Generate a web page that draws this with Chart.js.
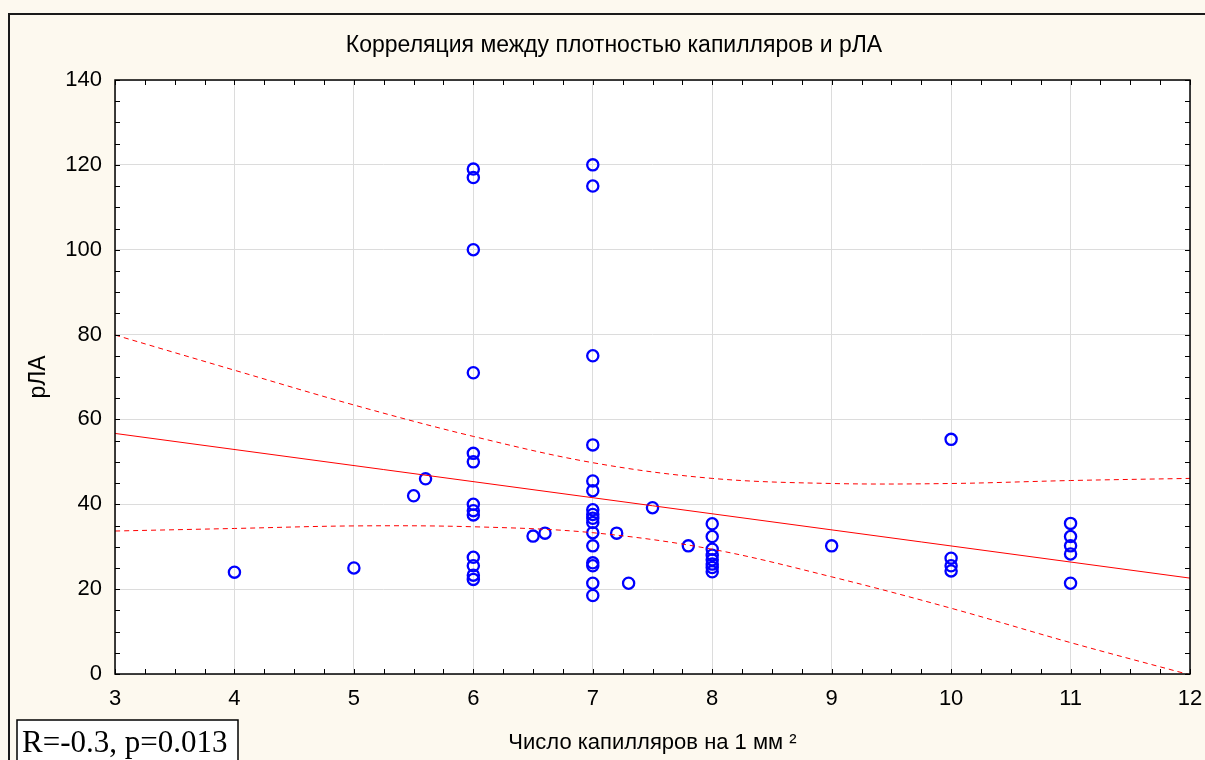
<!DOCTYPE html>
<html>
<head>
<meta charset="utf-8">
<script src="https://cdn.jsdelivr.net/npm/chart.js"></script>
<style>
  html, body { margin: 0; padding: 0; background: #fdf9ef; }
  #wrap { width: 1205px; height: 760px; }
</style>
</head>
<body>
<div id="wrap"><canvas id="chart" width="1205" height="760"></canvas></div>
<script>
// capillary density (per mm^2) vs pLA
const capDensity = [
  4, 5, 5.5, 5.6,
  6, 6, 6, 6, 6, 6, 6, 6, 6, 6, 6, 6, 6,
  6.5, 6.6,
  7, 7, 7, 7, 7, 7, 7, 7, 7, 7, 7, 7, 7, 7, 7, 7,
  7.2, 7.3, 7.5, 7.8,
  8, 8, 8, 8, 8, 8, 8, 8,
  9,
  10, 10, 10, 10,
  11, 11, 11, 11, 11
];
const plaValues = [
  24, 25, 42, 46,
  119, 117, 100, 71, 52, 50, 40, 38.5, 37.5, 27.5, 25.5, 23.3, 22.3,
  32.5, 33.2,
  120, 115, 75, 54, 45.5, 43.2, 38.7, 37.6, 36.7, 35.7, 33.3, 30.2, 26.2, 25.5, 21.4, 18.5,
  33.2, 21.4, 39.2, 30.2,
  35.4, 32.4, 29.4, 28, 26.9, 25.9, 25.1, 24.1,
  30.2,
  55.3, 27.3, 25.5, 24.3,
  35.5, 32.4, 30.2, 28.3, 21.4
];

// regression line and 95% band
const fitX = [3, 12];
const fitY = [56.7, 22.6];
const bandX = [3, 4, 5, 6, 7, 8, 9, 10, 11, 12];
const bandUpper = [79.9, 71.6, 63.4, 56.0, 49.8, 46.1, 44.9, 44.9, 45.6, 46.1];
const bandLower = [33.7, 34.3, 34.9, 34.7, 33.3, 29.4, 22.9, 15.5, 7.4, -0.2];

const xTicks = [3, 4, 5, 6, 7, 8, 9, 10, 11, 12];
const yTicks = [0, 20, 40, 60, 80, 100, 120, 140];

const titleText = 'Корреляция между плотностью капилляров и рЛА';
const xTitle = 'Число капилляров на 1 мм ²';
const yTitle = 'рЛА';
const statText = 'R=-0.3, p=0.013';

const sansFont = '"Liberation Sans", Arial, sans-serif';
const toPoints = (xs, ys) => xs.map((x, i) => ({ x: x, y: ys[i] }));

const decor = {
  id: 'decor',
  beforeDraw(chart) {
    const ctx = chart.ctx;
    const a = chart.chartArea;
    ctx.save();
    ctx.fillStyle = '#fdf9ef';
    ctx.fillRect(0, 0, chart.width, chart.height);
    // outer frame
    ctx.strokeStyle = '#1a1a1a';
    ctx.lineWidth = 2;
    ctx.strokeRect(9, 14, chart.width + 20, chart.height + 20);
    // plot background
    ctx.fillStyle = '#ffffff';
    ctx.fillRect(a.left, a.top, a.right - a.left, a.bottom - a.top);
    // title
    ctx.fillStyle = '#000';
    ctx.font = '23px ' + sansFont;
    ctx.textAlign = 'center';
    ctx.textBaseline = 'middle';
    ctx.fillText(titleText, 614, 46);
    ctx.restore();
  },
  afterDatasetsDraw(chart) {
    const ctx = chart.ctx;
    const a = chart.chartArea;
    const xs = chart.scales.x, ys = chart.scales.y;
    ctx.save();
    ctx.strokeStyle = '#000';
    ctx.lineWidth = 1;
    ctx.beginPath();
    // minor ticks, pointing inward on all sides
    for (let v = 3; v <= 12.001; v += 0.25) {
      const px = Math.round(xs.getPixelForValue(v)) + 0.5;
      ctx.moveTo(px, a.bottom); ctx.lineTo(px, a.bottom - 5);
      ctx.moveTo(px, a.top); ctx.lineTo(px, a.top + 5);
    }
    for (let v = 0; v <= 140; v += 5) {
      const py = Math.round(ys.getPixelForValue(v)) + 0.5;
      ctx.moveTo(a.left, py); ctx.lineTo(a.left + 5, py);
      ctx.moveTo(a.right, py); ctx.lineTo(a.right - 5, py);
    }
    ctx.stroke();
    ctx.lineWidth = 1.5;
    ctx.strokeRect(a.left, a.top, a.right - a.left, a.bottom - a.top);

    // stats box
    ctx.fillStyle = '#ffffff';
    ctx.fillRect(17, 720, 221, 50);
    ctx.lineWidth = 1.5;
    ctx.strokeRect(17, 720, 221, 50);
    ctx.fillStyle = '#000';
    ctx.font = '31px "Liberation Serif", "Times New Roman", serif';
    ctx.textAlign = 'left';
    ctx.textBaseline = 'alphabetic';
    ctx.fillText(statText, 22, 752);
    ctx.restore();
  }
};

new Chart(document.getElementById('chart'), {
  type: 'scatter',
  data: {
    datasets: [
      {
        type: 'line',
        data: toPoints(fitX, fitY),
        borderColor: '#ff0000',
        borderWidth: 1,
        pointRadius: 0,
        fill: false
      },
      {
        type: 'line',
        data: toPoints(bandX, bandUpper),
        borderColor: '#ff0000',
        borderWidth: 1,
        borderDash: [5, 4],
        pointRadius: 0,
        tension: 0.35,
        fill: false
      },
      {
        type: 'line',
        data: toPoints(bandX, bandLower),
        borderColor: '#ff0000',
        borderWidth: 1,
        borderDash: [5, 4],
        pointRadius: 0,
        tension: 0.35,
        fill: false
      },
      {
        data: toPoints(capDensity, plaValues),
        pointStyle: 'circle',
        pointRadius: 5.6,
        pointBorderWidth: 2.3,
        borderColor: '#0000ff',
        backgroundColor: 'rgba(0,0,0,0)'
      }
    ]
  },
  options: {
    responsive: false,
    animation: false,
    layout: { padding: { left: 0, right: 15, top: 80, bottom: 0 } },
    plugins: {
      legend: { display: false },
      tooltip: { enabled: false }
    },
    scales: {
      x: {
        type: 'linear',
        min: 3,
        max: 12,
        afterFit: (s) => { s.height = 86; s.paddingLeft = 0; s.paddingRight = 0; },
        afterBuildTicks: (s) => { s.ticks = xTicks.map(v => ({ value: v })); },
        grid: { color: '#dcdcdc', drawTicks: false },
        border: { display: false },
        ticks: {
          color: '#000',
          padding: 12,
          maxRotation: 0,
          font: { family: sansFont, size: 22 }
        },
        title: {
          display: true,
          text: xTitle,
          color: '#000',
          padding: { top: 0, bottom: 4 },
          font: { family: sansFont, size: 22 }
        }
      },
      y: {
        type: 'linear',
        min: 0,
        max: 140,
        afterFit: (s) => { s.width = 115; s.paddingTop = 0; s.paddingBottom = 0; },
        afterBuildTicks: (s) => { s.ticks = yTicks.map(v => ({ value: v })); },
        grid: { color: '#dcdcdc', drawTicks: false },
        border: { display: false },
        ticks: {
          color: '#000',
          padding: 13,
          font: { family: sansFont, size: 22 }
        },
        title: {
          display: true,
          text: yTitle,
          color: '#000',
          padding: { top: 25, bottom: 0 },
          font: { family: sansFont, size: 23 }
        }
      }
    }
  },
  plugins: [decor]
});
</script>
</body>
</html>
